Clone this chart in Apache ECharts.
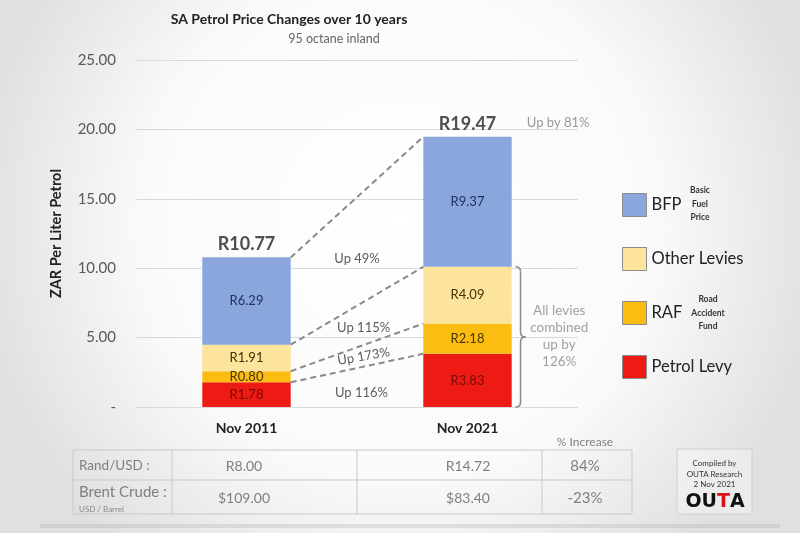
<!DOCTYPE html>
<html><head><meta charset="utf-8">
<script src="https://cdn.jsdelivr.net/npm/echarts@6/dist/echarts.min.js"></script>
<style>html,body{margin:0;padding:0;background:#fff}#c{width:800px;height:533px;}</style>
</head><body><div id="c"></div>
<script>
// ---- data ----
const categories = ['Nov 2011', 'Nov 2021'];
const petrolLevy = [1.78, 3.83];
const raf = [0.80, 2.18];
const otherLevies = [1.91, 4.09];
const bfp = [6.29, 9.37];
const totals = [10.77, 19.47];
const yTicks = [0, 5, 10, 15, 20, 25];
const changeLabels = ['Up 116%', 'Up 173%', 'Up 115%', 'Up 49%']; // petrol levy, RAF, other levies, total
const totalChange = 'Up by 81%';
const leviesChange = 'All levies\ncombined\nup by\n126%';
const legendNames = ['BFP', 'Other Levies', 'RAF', 'Petrol Levy'];
const legendNotes = { 'BFP': 'Basic\nFuel\nPrice', 'RAF': 'Road\nAccident\nFund' };
const tableHeader = '% Increase';
const tableRows = [
  ['Rand/USD :', 'R8.00', 'R14.72', '84%'],
  ['Brent Crude :', '$109.00', '$83.40', '-23%']
];
const tableSubLabel = 'USD / Barrel';
const creditLines = 'Compiled by\nOUTA Research\n2 Nov 2021';

// ---- styles ----
const FONT = 'Lato';
const colors = { 'Petrol Levy': '#ee1b14', 'RAF': '#fbbd12', 'Other Levies': '#fde49c', 'BFP': '#8aa6dc' };
const labelColors = { 'Petrol Levy': '#7a0a06', 'RAF': '#4a3600', 'Other Levies': '#3f3300', 'BFP': '#1d3461' };

// cumulative tops for the connector lines
const stackSeries = [['Petrol Levy', petrolLevy], ['RAF', raf], ['Other Levies', otherLevies], ['BFP', bfp]];
const cum = [[0, 0]];
stackSeries.forEach(([n, arr], i) => { cum.push([cum[i][0] + arr[0], cum[i][1] + arr[1]]); });
const connectorTops = [cum[1], cum[2], cum[3], totals.slice()];

const barSeries = stackSeries.map(([name, arr]) => ({
  name, type: 'bar', stack: 'total', barWidth: '40%', xAxisIndex: 0,
  data: arr,
  itemStyle: { color: colors[name] },
  label: {
    show: true, position: 'inside', fontFamily: FONT, fontSize: 13,
    color: labelColors[name], formatter: p => 'R' + p.value.toFixed(2)
  },
  emphasis: { disabled: true }
}));

// connector lines between bar edges (hidden value x-axis 0..2, bar edges at 0.7 and 1.3)
const connectors = {
  type: 'lines', coordinateSystem: 'cartesian2d', xAxisIndex: 1, yAxisIndex: 0, silent: true, z: 3,
  lineStyle: { color: '#8a8a8a', width: 2, type: [6, 4], opacity: 1 },
  data: connectorTops.map(v => ({ coords: [[0.7, v[0]], [1.3, v[1]]] }))
};

// change annotations placed between the bars
const annY = [1.0, 3.65, 5.7, 10.66];
const annX = [1.02, 1.03, 1.03, 1.0];
const annRot = [0, 10, 0, 0];
const annotations = {
  type: 'scatter', xAxisIndex: 1, yAxisIndex: 0, symbolSize: 0, silent: true, z: 5,
  data: changeLabels.map((t, i) => ({
    value: [annX[i], annY[i]], name: t,
    label: { rotate: annRot[i] }
  })).concat([
    { value: [1.91, 20.45], name: totalChange, label: { color: '#7f7f7f', fontSize: 13 } },
    { value: [1.915, 5.1], name: leviesChange, label: { color: '#8a8a8a', fontSize: 13.5, lineHeight: 17 } }
  ]),
  label: { show: true, position: 'inside', formatter: p => p.name, fontFamily: FONT, fontSize: 13, color: '#333' }
};

const totalLabels = {
  type: 'scatter', xAxisIndex: 0, yAxisIndex: 0, symbolSize: 0, silent: true, z: 5,
  data: totals.map((t, i) => [i, t]),
  label: {
    show: true, position: 'top', distance: 4, fontFamily: FONT, fontSize: 18, fontWeight: 'bold', color: '#222',
    formatter: p => 'R' + p.value[1].toFixed(2)
  }
};

const option = {
  animation: false,
  backgroundColor: new echarts.graphic.RadialGradient(0.5, 0.42, 0.8, [
    { offset: 0, color: '#ffffff' }, { offset: 0.6, color: '#fafafa' }, { offset: 1, color: '#e0e0e0' }
  ]),
  textStyle: { fontFamily: FONT },
  title: [
    { text: 'SA Petrol Price Changes over 10 years', left: 284, top: 7, textAlign: 'center',
      textStyle: { fontFamily: FONT, fontSize: 14, fontWeight: 'bold', color: '#222' } },
    { text: '95 octane inland', left: 329, top: 27, textAlign: 'center',
      textStyle: { fontFamily: FONT, fontSize: 12.5, fontWeight: 'normal', color: '#666' } }
  ],
  legend: {
    data: legendNames, orient: 'vertical', left: 617, top: 188,
    itemWidth: 24, itemHeight: 23, itemGap: 30, icon: 'rect', selectedMode: false,
    itemStyle: { borderColor: '#8c8c8c', borderWidth: 1 },
    textStyle: { fontFamily: FONT, fontSize: 16.5, color: '#222' }
  },
  grid: { left: 136, right: 222, top: 60, bottom: 126 },
  xAxis: [
    { type: 'category', data: categories, axisLine: { show: false }, axisTick: { show: false },
      axisLabel: { fontFamily: FONT, fontSize: 14, fontWeight: 'bold', color: '#222', margin: 14 } },
    { type: 'value', min: 0, max: 2, show: false }
  ],
  yAxis: {
    type: 'value', min: yTicks[0], max: yTicks[yTicks.length - 1], interval: yTicks[1] - yTicks[0],
    name: 'ZAR Per Liter Petrol', nameLocation: 'middle', nameGap: 72,
    nameTextStyle: { fontFamily: FONT, fontSize: 14.5, fontWeight: 'bold', color: '#222' },
    axisLine: { show: false }, axisTick: { show: false },
    axisLabel: { fontFamily: FONT, fontSize: 15, color: '#595959', margin: 20,
      formatter: v => v === 0 ? '-' : v.toFixed(2) },
    splitLine: { lineStyle: { color: '#d9d9d9', width: 1 } }
  },
  series: barSeries.concat([connectors, annotations, totalLabels])
};

const chart = echarts.init(document.getElementById('c'));
chart.setOption(option);

// ---- graphic overlays (brace, legend notes, table, credit box) ----
const px = (x, y) => chart.convertToPixel({ xAxisIndex: 1, yAxisIndex: 0 }, [x, y]);
const leviesTop = cum[3][1];
const bTop = px(1.74, leviesTop), bBot = px(1.74, 0);
const bx = bTop[0], yt = bTop[1], yb = bBot[1], ym = (yt + yb) / 2;
const braceStyle = { stroke: '#8a8a8a', lineWidth: 1.5, fill: 'none' };
const g = [];
const curve = (x1, y1, cx, cy, x2, y2) => g.push({ type: 'bezierCurve', shape: { x1, y1, x2, y2, cpx1: cx, cpy1: cy }, style: braceStyle });
const seg = (x1, y1, x2, y2) => g.push({ type: 'line', shape: { x1, y1, x2, y2 }, style: braceStyle });
curve(bx - 5, yt, bx, yt, bx, yt + 5);
seg(bx, yt + 5, bx, ym - 5);
curve(bx, ym - 5, bx, ym, bx + 5, ym);
curve(bx + 5, ym, bx, ym, bx, ym + 5);
seg(bx, ym + 5, bx, yb - 5);
curve(bx, yb - 5, bx, yb, bx - 5, yb);

// legend notes
g.push({ type: 'text', x: 700, y: 204, style: { text: legendNotes['BFP'], font: 'bold 8.5px Lato', fill: '#333', align: 'center', verticalAlign: 'middle', lineHeight: 13.5 } });
g.push({ type: 'text', x: 708, y: 313, style: { text: legendNotes['RAF'], font: 'bold 8.5px Lato', fill: '#333', align: 'center', verticalAlign: 'middle', lineHeight: 13.5 } });

// table
const lineStyle = { stroke: '#c9c9c9', lineWidth: 1 };
const colX = [73, 172, 357, 542, 632];
const rowY = [450, 480, 514];
rowY.forEach(y => g.push({ type: 'line', shape: { x1: colX[0], y1: y, x2: colX[4], y2: y }, style: lineStyle }));
colX.forEach(x => g.push({ type: 'line', shape: { x1: x, y1: rowY[0], x2: x, y2: rowY[2] }, style: lineStyle }));
g.push({ type: 'text', x: 585, y: 442, style: { text: tableHeader, font: '12px Lato', fill: '#808080', align: 'center', verticalAlign: 'middle' } });
const rowCY = [466, 498];
const valX = [244, 468, 585];
const rowLabelFont = ['13.5px Lato', '15px Lato'];
tableRows.forEach((row, r) => {
  g.push({ type: 'text', x: 79, y: r === 0 ? rowCY[0] : 492, style: { text: row[0], font: rowLabelFont[r], fill: '#7f7f7f', align: 'left', verticalAlign: 'middle' } });
  row.slice(1).forEach((v, c) => g.push({ type: 'text', x: valX[c], y: rowCY[r], style: { text: v, font: (c === 2 ? '15px' : '14px') + ' Lato', fill: '#7f7f7f', align: 'center', verticalAlign: 'middle' } }));
});
g.push({ type: 'text', x: 79, y: 509, style: { text: tableSubLabel, font: '8px Lato', fill: '#8a8a8a', align: 'left', verticalAlign: 'middle' } });

// credit box
g.push({ type: 'rect', shape: { x: 677, y: 449, width: 75, height: 65 }, style: { fill: 'rgba(255,255,255,0.35)', stroke: '#cfcfcf', lineWidth: 1 } });
g.push({ type: 'text', x: 714.5, y: 474, style: { text: creditLines, font: '8px Lato', fill: '#333', align: 'center', verticalAlign: 'middle', lineHeight: 10.5 } });
g.push({ type: 'text', x: 715, y: 502, style: {
  text: '{k|OU}{r|T}{k|A}', align: 'center', verticalAlign: 'middle',
  rich: { k: { fontFamily: 'DejaVu Sans', fontWeight: 'bold', fontSize: 19, fill: '#111', color: '#111' },
          r: { fontFamily: 'DejaVu Sans', fontWeight: 'bold', fontSize: 19, fill: '#d8121a', color: '#d8121a' } } } });

// slide bottom edge
g.push({ type: 'rect', shape: { x: 40, y: 524, width: 740, height: 4 }, style: { fill: 'rgba(150,150,150,0.22)' } });

chart.setOption({ graphic: g });
</script>
</body></html>
